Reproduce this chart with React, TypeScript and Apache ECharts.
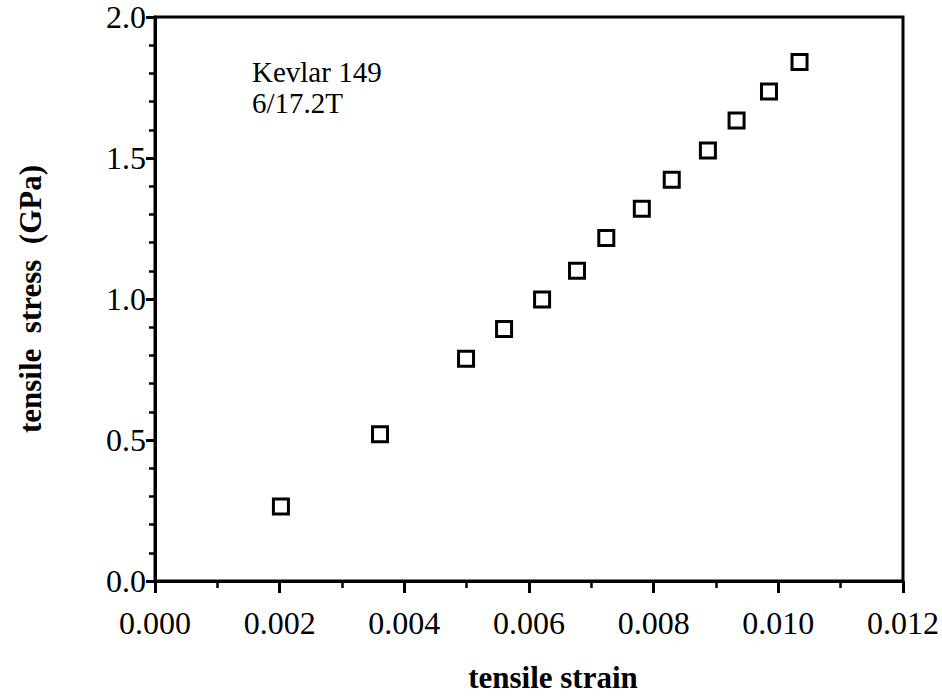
import React, { useEffect, useRef } from "react";
import * as echarts from "echarts";

// Tensile test of a Kevlar 149 fibre: strain vs. stress readings
const strain = [
  0.00202, 0.00361, 0.00499, 0.0056, 0.00621, 0.00677, 0.00724, 0.00781,
  0.00829, 0.00887, 0.00933, 0.00985, 0.01034,
];
const stressGPa = [
  0.264, 0.52, 0.788, 0.894, 0.998, 1.1, 1.216, 1.32, 1.423, 1.527, 1.633,
  1.736, 1.84,
];

const xTitle = "tensile strain";
const yTitle = "tensile  stress  (GPa)";
const noteLines = ["Kevlar 149", "6/17.2T"];

const SERIF = "Liberation Serif, Times New Roman, serif";

export default function App() {
  const ref = useRef<HTMLDivElement>(null);

  useEffect(() => {
    if (!ref.current) return;
    const chart = echarts.init(ref.current, undefined, { renderer: "svg" });
    const points = strain.map((x, i) => [x, stressGPa[i]]);

    chart.setOption({
      animation: false,
      backgroundColor: "#ffffff",
      grid: {
        left: 155,
        right: 39,
        top: 17,
        bottom: 115,
        show: true,
        borderColor: "#000",
        borderWidth: 3,
      },
      xAxis: {
        type: "value",
        min: 0,
        max: 0.012,
        interval: 0.002,
        name: xTitle,
        nameLocation: "middle",
        nameGap: 81,
        nameTextStyle: {
          fontFamily: SERIF,
          fontWeight: "bold",
          fontSize: 31,
          color: "#000",
          padding: [0, 0, 0, 48],
        },
        axisLine: { show: true, lineStyle: { color: "#000", width: 3 } },
        axisTick: { show: true, inside: false, length: 12, lineStyle: { color: "#000", width: 3 } },
        minorTick: { show: true, splitNumber: 2, length: 7, lineStyle: { color: "#000", width: 2.5 } },
        splitLine: { show: false },
        minorSplitLine: { show: false },
        axisLabel: {
          margin: 26,
          fontFamily: SERIF,
          fontSize: 32,
          color: "#000",
          formatter: (v: number) => v.toFixed(3),
        },
      },
      yAxis: {
        type: "value",
        min: 0,
        max: 2,
        interval: 0.5,
        name: yTitle,
        nameLocation: "middle",
        nameGap: 109,
        nameTextStyle: {
          fontFamily: SERIF,
          fontWeight: "bold",
          fontSize: 31,
          color: "#000",
        },
        axisLine: { show: true, lineStyle: { color: "#000", width: 3 } },
        axisTick: { show: true, inside: false, length: 9, lineStyle: { color: "#000", width: 3 } },
        minorTick: { show: true, splitNumber: 5, length: 6, lineStyle: { color: "#000", width: 2.5 } },
        splitLine: { show: false },
        minorSplitLine: { show: false },
        axisLabel: {
          margin: 9,
          fontFamily: SERIF,
          fontSize: 32,
          color: "#000",
          formatter: (v: number) => v.toFixed(1),
        },
      },
      graphic: [
        {
          type: "text",
          left: 252,
          top: 56,
          style: {
            text: noteLines.join("\n"),
            fontFamily: SERIF,
            fontSize: 29,
            lineHeight: 31,
            fill: "#000",
          },
        },
      ],
      series: [
        {
          type: "scatter",
          data: points,
          symbol: "rect",
          symbolSize: 15,
          itemStyle: { color: "#fff", borderColor: "#000", borderWidth: 3, opacity: 1 },
        },
      ],
    });

    return () => chart.dispose();
  }, []);

  return (
    <div
      ref={ref}
      style={{ position: "absolute", left: 0, top: 0, width: 942, height: 698 }}
    />
  );
}
